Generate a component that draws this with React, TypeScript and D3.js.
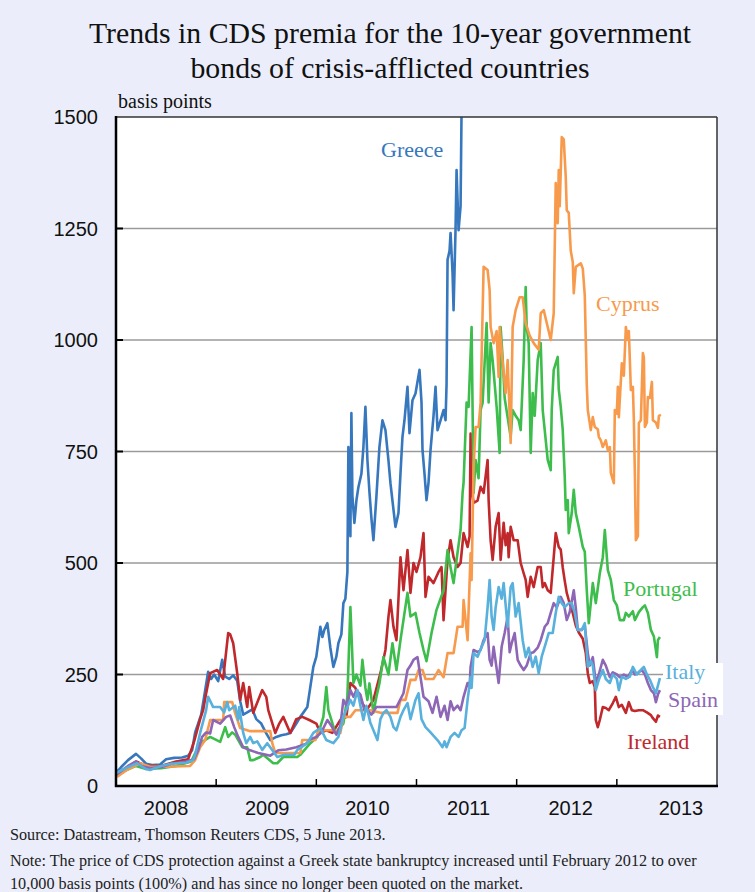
import React from "react";
import * as d3 from "d3";

type Pt = [number, number];

const title1 = "Trends in CDS premia for the 10-year government";
const title2 = "bonds of crisis-afflicted countries";
const yUnit = "basis points";
const yTicks = [0, 250, 500, 750, 1000, 1250, 1500];
const yearLabels = [2008, 2009, 2010, 2011, 2012, 2013];
const yearLabelAt = [2008.5, 2009.51, 2010.51, 2011.52, 2012.54, 2013.64];
const yearBoundaries = [2009, 2010, 2011, 2012, 2013];
const sourceLines = [
  "Source: Datastream, Thomson Reuters CDS, 5 June 2013.",
  "Note: The price of CDS protection against a Greek state bankruptcy increased until February 2012 to over",
  "10,000 basis points (100%) and has since no longer been quoted on the market.",
];

const greece: Pt[] = [
  [2008.00,30],[2008.05,42],[2008.12,58],[2008.20,72],[2008.25,62],[2008.30,50],[2008.36,47],[2008.44,48],[2008.50,60],[2008.58,63],[2008.66,64],[2008.72,68],[2008.76,80],[2008.79,120],[2008.82,140],[2008.85,160],[2008.88,200],[2008.92,256],[2008.95,240],[2008.98,250],[2009.02,235],[2009.06,283],[2009.09,245],[2009.13,240],[2009.17,248],[2009.21,236],[2009.24,190],[2009.27,160],[2009.31,165],[2009.36,172],[2009.40,150],[2009.45,140],[2009.50,118],[2009.54,103],[2009.60,110],[2009.65,114],[2009.70,116],[2009.74,119],[2009.80,140],[2009.84,155],[2009.91,177],[2009.97,267],[2010.00,290],[2010.04,357],[2010.06,334],[2010.08,350],[2010.11,365],[2010.14,310],[2010.17,267],[2010.20,290],[2010.22,320],[2010.25,340],[2010.27,410],[2010.29,420],[2010.31,480],[2010.32,760],[2010.33,700],[2010.34,560],[2010.35,836],[2010.36,650],[2010.38,590],[2010.40,640],[2010.42,670],[2010.45,700],[2010.47,760],[2010.49,850],[2010.51,731],[2010.53,660],[2010.55,600],[2010.57,551],[2010.60,650],[2010.63,760],[2010.66,820],[2010.69,798],[2010.72,730],[2010.74,679],[2010.77,620],[2010.79,581],[2010.82,612],[2010.84,700],[2010.86,783],[2010.88,820],[2010.91,895],[2010.93,791],[2010.96,865],[2010.99,880],[2011.03,933],[2011.05,860],[2011.06,753],[2011.08,700],[2011.10,641],[2011.12,680],[2011.14,753],[2011.17,830],[2011.19,895],[2011.21,798],[2011.24,820],[2011.27,843],[2011.29,820],[2011.30,900],[2011.31,1180],[2011.33,1200],[2011.34,1240],[2011.36,1150],[2011.37,1067],[2011.39,1250],[2011.40,1381],[2011.42,1246],[2011.44,1300],[2011.45,1520],[2011.46,1700],
];

const cyprus: Pt[] = [
  [2008.01,20],[2008.10,35],[2008.24,51],[2008.34,43],[2008.50,43],[2008.74,45],[2008.79,58],[2008.84,87],[2008.89,103],[2008.94,148],[2009.07,148],[2009.08,188],[2009.16,188],[2009.19,163],[2009.24,130],[2009.34,123],[2009.54,123],[2009.56,96],[2009.59,74],[2009.84,74],[2009.86,103],[2009.99,103],[2010.02,125],[2010.17,125],[2010.24,119],[2010.27,155],[2010.34,155],[2010.39,170],[2010.54,170],[2010.64,164],[2010.81,164],[2010.84,193],[2010.89,193],[2010.94,238],[2010.99,238],[2011.02,260],[2011.06,260],[2011.09,240],[2011.17,240],[2011.22,260],[2011.27,244],[2011.31,298],[2011.37,298],[2011.41,357],[2011.46,357],[2011.47,417],[2011.51,327],[2011.54,522],[2011.55,462],[2011.57,716],[2011.59,805],[2011.62,805],[2011.64,859],[2011.67,1164],[2011.71,1157],[2011.73,1112],[2011.74,1029],[2011.77,993],[2011.80,1020],[2011.82,917],[2011.83,1029],[2011.86,950],[2011.89,881],[2011.91,955],[2011.94,769],[2011.96,1029],[2011.99,1067],[2012.03,1096],[2012.06,1096],[2012.09,1038],[2012.13,1010],[2012.17,993],[2012.22,978],[2012.24,1060],[2012.27,1067],[2012.31,1029],[2012.34,1000],[2012.37,1060],[2012.39,1352],[2012.41,1262],[2012.42,1381],[2012.43,1300],[2012.45,1455],[2012.47,1450],[2012.49,1366],[2012.50,1291],[2012.52,1285],[2012.54,1200],[2012.56,1175],[2012.57,1105],[2012.59,1164],[2012.64,1172],[2012.66,1160],[2012.68,1100],[2012.70,900],[2012.71,843],[2012.74,798],[2012.76,827],[2012.78,805],[2012.81,800],[2012.82,783],[2012.84,775],[2012.86,760],[2012.89,775],[2012.91,753],[2012.93,760],[2012.94,702],[2012.97,679],[2012.98,843],[2013.00,835],[2013.01,895],[2013.02,827],[2013.05,948],[2013.07,920],[2013.09,1029],[2013.11,1000],[2013.12,1020],[2013.14,888],[2013.16,895],[2013.17,820],[2013.18,700],[2013.19,551],[2013.21,560],[2013.22,814],[2013.24,820],[2013.26,971],[2013.27,960],[2013.28,805],[2013.30,815],[2013.31,872],[2013.33,870],[2013.35,906],[2013.36,820],[2013.39,815],[2013.41,803],[2013.42,830],[2013.44,832],
];

const portugal: Pt[] = [
  [2008.00,22],[2008.10,35],[2008.20,45],[2008.30,38],[2008.45,40],[2008.60,45],[2008.75,55],[2008.84,96],[2008.94,110],[2009.04,99],[2009.09,132],[2009.12,110],[2009.16,120],[2009.19,115],[2009.26,87],[2009.31,87],[2009.34,58],[2009.37,58],[2009.44,65],[2009.47,70],[2009.57,51],[2009.61,51],[2009.67,65],[2009.81,65],[2009.84,70],[2009.94,96],[2010.01,110],[2010.07,155],[2010.10,222],[2010.12,170],[2010.15,148],[2010.19,119],[2010.24,132],[2010.27,140],[2010.31,200],[2010.34,401],[2010.37,231],[2010.40,250],[2010.44,225],[2010.46,283],[2010.49,220],[2010.51,193],[2010.53,230],[2010.57,164],[2010.60,200],[2010.63,230],[2010.67,289],[2010.72,250],[2010.76,320],[2010.80,260],[2010.84,327],[2010.91,433],[2010.94,380],[2010.99,388],[2011.03,343],[2011.07,305],[2011.10,280],[2011.15,343],[2011.20,395],[2011.27,439],[2011.31,529],[2011.34,490],[2011.37,455],[2011.40,507],[2011.44,574],[2011.46,657],[2011.47,680],[2011.50,860],[2011.52,850],[2011.55,1029],[2011.57,657],[2011.59,731],[2011.62,690],[2011.64,843],[2011.66,859],[2011.70,1038],[2011.72,860],[2011.74,993],[2011.76,955],[2011.80,850],[2011.83,747],[2011.84,1029],[2011.86,960],[2011.88,870],[2011.94,783],[2011.96,843],[2011.99,830],[2012.02,820],[2012.04,798],[2012.07,955],[2012.09,1119],[2012.10,1029],[2012.12,993],[2012.14,747],[2012.16,881],[2012.18,830],[2012.21,955],[2012.24,993],[2012.26,843],[2012.31,731],[2012.34,708],[2012.35,843],[2012.37,933],[2012.41,962],[2012.42,890],[2012.44,850],[2012.46,798],[2012.48,693],[2012.49,619],[2012.51,641],[2012.52,567],[2012.55,612],[2012.57,664],[2012.59,612],[2012.62,581],[2012.66,536],[2012.68,525],[2012.70,439],[2012.72,365],[2012.76,455],[2012.79,410],[2012.83,477],[2012.86,513],[2012.88,574],[2012.91,484],[2012.94,462],[2012.97,417],[2013.00,405],[2013.03,372],[2013.07,372],[2013.09,388],[2013.12,380],[2013.16,392],[2013.18,372],[2013.22,390],[2013.26,401],[2013.28,405],[2013.31,388],[2013.34,350],[2013.37,335],[2013.40,289],[2013.41,327],[2013.43,334],
];

const ireland: Pt[] = [
  [2008.00,25],[2008.10,40],[2008.20,55],[2008.30,45],[2008.45,45],[2008.60,55],[2008.72,60],[2008.78,100],[2008.84,150],[2008.87,170],[2008.90,208],[2008.94,253],[2009.01,260],[2009.07,240],[2009.12,343],[2009.14,340],[2009.17,320],[2009.21,253],[2009.24,193],[2009.27,231],[2009.31,177],[2009.33,222],[2009.37,164],[2009.42,193],[2009.46,215],[2009.50,200],[2009.52,170],[2009.59,119],[2009.63,140],[2009.67,155],[2009.74,119],[2009.80,150],[2009.86,155],[2009.93,148],[2010.00,140],[2010.04,119],[2010.10,125],[2010.16,119],[2010.24,148],[2010.30,155],[2010.34,231],[2010.39,220],[2010.44,193],[2010.50,170],[2010.57,193],[2010.64,253],[2010.69,305],[2010.72,379],[2010.74,417],[2010.77,357],[2010.80,327],[2010.84,513],[2010.87,439],[2010.91,529],[2010.94,433],[2010.97,500],[2011.00,480],[2011.04,513],[2011.07,567],[2011.09,424],[2011.12,469],[2011.17,455],[2011.22,480],[2011.25,491],[2011.27,372],[2011.31,507],[2011.34,551],[2011.37,513],[2011.41,491],[2011.44,500],[2011.47,567],[2011.51,536],[2011.53,560],[2011.54,790],[2011.55,664],[2011.57,635],[2011.61,640],[2011.64,671],[2011.67,657],[2011.71,731],[2011.72,641],[2011.74,551],[2011.76,507],[2011.79,581],[2011.82,612],[2011.84,507],[2011.87,590],[2011.89,540],[2011.91,567],[2011.92,513],[2011.94,581],[2011.97,551],[2012.01,551],[2012.04,500],[2012.07,477],[2012.09,462],[2012.11,424],[2012.14,469],[2012.17,446],[2012.21,491],[2012.24,491],[2012.26,446],[2012.28,455],[2012.31,439],[2012.34,433],[2012.37,513],[2012.39,567],[2012.42,536],[2012.44,530],[2012.46,490],[2012.48,460],[2012.50,433],[2012.52,417],[2012.56,388],[2012.59,360],[2012.62,344],[2012.66,330],[2012.69,298],[2012.71,253],[2012.73,231],[2012.76,235],[2012.78,222],[2012.79,148],[2012.81,132],[2012.83,148],[2012.86,177],[2012.89,175],[2012.92,170],[2012.96,186],[2012.99,200],[2013.02,177],[2013.05,182],[2013.09,164],[2013.12,188],[2013.15,170],[2013.18,168],[2013.22,170],[2013.26,170],[2013.30,165],[2013.34,159],[2013.36,152],[2013.39,144],[2013.41,158],[2013.43,155],
];

const spain: Pt[] = [
  [2008.00,25],[2008.06,35],[2008.12,45],[2008.20,55],[2008.25,45],[2008.35,40],[2008.45,42],[2008.55,50],[2008.70,55],[2008.78,60],[2008.82,80],[2008.86,110],[2008.90,120],[2008.94,118],[2008.97,148],[2009.04,140],[2009.10,155],[2009.14,158],[2009.18,132],[2009.22,110],[2009.27,87],[2009.34,80],[2009.42,74],[2009.50,70],[2009.54,68],[2009.62,80],[2009.70,82],[2009.80,87],[2009.90,95],[2009.94,105],[2010.00,110],[2010.05,120],[2010.11,148],[2010.15,135],[2010.20,115],[2010.24,135],[2010.27,193],[2010.30,180],[2010.34,215],[2010.37,200],[2010.40,215],[2010.44,205],[2010.48,170],[2010.51,170],[2010.55,160],[2010.60,177],[2010.70,177],[2010.80,177],[2010.87,208],[2010.91,260],[2010.94,270],[2010.97,283],[2011.01,289],[2011.04,244],[2011.07,200],[2011.12,190],[2011.16,164],[2011.20,200],[2011.24,155],[2011.28,180],[2011.31,148],[2011.34,190],[2011.37,170],[2011.41,180],[2011.44,170],[2011.47,200],[2011.51,231],[2011.53,220],[2011.54,267],[2011.57,305],[2011.61,300],[2011.64,305],[2011.67,327],[2011.71,343],[2011.73,283],[2011.75,270],[2011.77,312],[2011.82,231],[2011.85,312],[2011.88,343],[2011.91,379],[2011.93,300],[2011.95,320],[2011.98,343],[2012.01,283],[2012.04,270],[2012.07,260],[2012.10,270],[2012.14,298],[2012.17,300],[2012.21,310],[2012.24,327],[2012.28,357],[2012.31,365],[2012.34,388],[2012.37,410],[2012.40,400],[2012.44,424],[2012.47,410],[2012.50,372],[2012.53,390],[2012.57,439],[2012.59,400],[2012.61,350],[2012.65,350],[2012.68,360],[2012.71,298],[2012.73,270],[2012.76,289],[2012.79,231],[2012.82,250],[2012.86,283],[2012.89,270],[2012.93,244],[2012.96,255],[2013.00,250],[2013.03,244],[2013.07,250],[2013.11,244],[2013.15,260],[2013.18,250],[2013.22,255],[2013.25,260],[2013.28,250],[2013.31,231],[2013.34,215],[2013.37,208],[2013.39,188],[2013.41,205],[2013.43,215],
];

const italy: Pt[] = [
  [2008.00,29],[2008.10,40],[2008.21,51],[2008.30,38],[2008.34,36],[2008.45,45],[2008.55,50],[2008.70,52],[2008.77,58],[2008.79,70],[2008.84,119],[2008.90,170],[2008.92,200],[2008.97,177],[2009.04,177],[2009.08,165],[2009.11,188],[2009.13,170],[2009.19,180],[2009.22,148],[2009.23,177],[2009.27,119],[2009.30,96],[2009.34,110],[2009.37,96],[2009.41,100],[2009.46,81],[2009.51,96],[2009.61,65],[2009.68,70],[2009.78,70],[2009.81,81],[2009.91,96],[2009.97,119],[2010.04,130],[2010.10,103],[2010.17,96],[2010.22,110],[2010.27,155],[2010.34,193],[2010.37,180],[2010.41,215],[2010.44,180],[2010.47,148],[2010.50,180],[2010.54,141],[2010.57,125],[2010.61,103],[2010.64,150],[2010.67,164],[2010.70,170],[2010.74,155],[2010.77,132],[2010.80,125],[2010.84,155],[2010.87,170],[2010.91,186],[2010.94,150],[2010.99,193],[2011.02,208],[2011.05,150],[2011.09,132],[2011.14,120],[2011.18,110],[2011.22,100],[2011.26,87],[2011.28,100],[2011.30,87],[2011.34,110],[2011.38,119],[2011.42,110],[2011.45,125],[2011.48,130],[2011.51,193],[2011.54,244],[2011.55,220],[2011.57,298],[2011.61,290],[2011.65,312],[2011.68,327],[2011.71,401],[2011.73,462],[2011.75,380],[2011.77,350],[2011.79,400],[2011.82,446],[2011.85,420],[2011.87,455],[2011.91,357],[2011.94,446],[2011.96,455],[2011.99,380],[2012.02,410],[2012.06,327],[2012.09,289],[2012.12,310],[2012.16,267],[2012.19,290],[2012.22,253],[2012.25,290],[2012.29,320],[2012.32,343],[2012.36,343],[2012.39,388],[2012.42,424],[2012.45,410],[2012.48,401],[2012.52,410],[2012.55,410],[2012.58,388],[2012.61,350],[2012.65,350],[2012.68,365],[2012.71,267],[2012.74,280],[2012.76,270],[2012.79,215],[2012.82,238],[2012.86,260],[2012.89,240],[2012.93,231],[2012.96,250],[2013.00,240],[2013.02,215],[2013.05,245],[2013.09,240],[2013.13,245],[2013.16,267],[2013.20,250],[2013.23,258],[2013.27,267],[2013.30,250],[2013.33,238],[2013.36,222],[2013.39,208],[2013.41,225],[2013.43,242],
];

const seriesNames = ["Greece", "Ireland", "Portugal", "Cyprus", "Spain", "Italy"];
const seriesData = [greece, ireland, portugal, cyprus, spain, italy];
const seriesColors = ["#3677BD", "#C0282B", "#3DBD4C", "#F89A4C", "#8D66B6", "#58B0DC"];

const W = 755, H = 892;
const M = { left: 116, right: 717, top: 117, bottom: 786 };
const SERIF = "'Liberation Serif', 'Times New Roman', serif";
const SANS = "'Liberation Sans', Arial, sans-serif";

const labelPos: Record<string, [number, number]> = {
  Greece: [381, 157],
  Cyprus: [596, 311],
  Portugal: [623, 596],
  Italy: [665, 679],
  Spain: [668, 707],
  Ireland: [627, 749],
};

export default function App() {
  const x = d3.scaleLinear().domain([2008, 2014]).range([M.left, M.right]);
  const y = d3.scaleLinear().domain([0, 1500]).range([M.bottom, M.top]);
  const line = d3.line<Pt>().x((d) => x(d[0])).y((d) => y(d[1]));

  return (
    <svg width={W} height={H} style={{ position: "absolute", left: 0, top: 0 }}>
      <rect x={0} y={0} width={W} height={H} fill="#EBEEFA" />
      <text x={390} y={43} textAnchor="middle" fontFamily={SERIF} fontSize={29.8} fill="#111">{title1}</text>
      <text x={390} y={78} textAnchor="middle" fontFamily={SERIF} fontSize={29.8} fill="#111">{title2}</text>
      <text x={118} y={108} fontFamily={SERIF} fontSize={20} fill="#111">{yUnit}</text>

      <defs>
        <clipPath id="plotclip">
          <rect x={M.left} y={M.top} width={M.right - M.left} height={M.bottom - M.top} />
        </clipPath>
      </defs>
      <rect x={M.left} y={M.top} width={M.right - M.left} height={M.bottom - M.top} fill="#fff" />
      {yTicks.filter((t) => t > 0 && t < 1500).map((t) => (
        <line key={t} x1={M.left} x2={M.right} y1={y(t)} y2={y(t)} stroke="#9a9a9a" strokeWidth={1.5} />
      ))}
      <g clipPath="url(#plotclip)">
        {seriesData.map((d, i) => (
          <path key={seriesNames[i]} d={line(d) || ""} fill="none" stroke={seriesColors[i]} strokeWidth={2.6} strokeLinejoin="round" />
        ))}
      </g>
      <rect x={663} y={663} width={60} height={52} fill="#fff" />
      <line x1={M.left} x2={M.right} y1={M.top} y2={M.top} stroke="#333" strokeWidth={1.5} />
      <line x1={M.right} x2={M.right} y1={M.top} y2={663} stroke="#333" strokeWidth={1.5} />
      <line x1={M.right} x2={M.right} y1={715} y2={M.bottom} stroke="#333" strokeWidth={1.5} />
      <line x1={M.left} x2={M.left} y1={M.top - 1} y2={M.bottom + 1} stroke="#000" strokeWidth={2.5} />
      <line x1={M.left - 1} x2={M.right + 1} y1={M.bottom} y2={M.bottom} stroke="#000" strokeWidth={2.5} />
      {yTicks.filter((t) => t > 0 && t < 1500).map((t) => (
        <line key={"tk" + t} x1={M.left} x2={M.left + 7} y1={y(t)} y2={y(t)} stroke="#000" strokeWidth={2} />
      ))}
      {yearBoundaries.map((yr) => (
        <line key={"xt" + yr} x1={x(yr)} x2={x(yr)} y1={M.bottom} y2={M.bottom - 7} stroke="#000" strokeWidth={1.5} />
      ))}
      {yTicks.map((t) => (
        <text key={"yl" + t} x={98} y={y(t)} dy="0.36em" textAnchor="end" fontFamily={SANS} fontSize={20} fill="#111">{t}</text>
      ))}
      {yearLabels.map((yr, i) => (
        <text key={"xl" + yr} x={x(yearLabelAt[i])} y={815} textAnchor="middle" fontFamily={SANS} fontSize={20} fill="#111">{yr}</text>
      ))}
      {seriesNames.map((n, i) => (
        <text key={"lab" + n} x={labelPos[n][0]} y={labelPos[n][1]} fontFamily={SERIF} fontSize={22} fill={seriesColors[i]}>{n}</text>
      ))}
      {sourceLines.map((s, i) => (
        <text key={"src" + i} x={10} y={[840, 866, 889][i]} fontFamily={SERIF} fontSize={16.2} fill="#222">{s}</text>
      ))}
    </svg>
  );
}
